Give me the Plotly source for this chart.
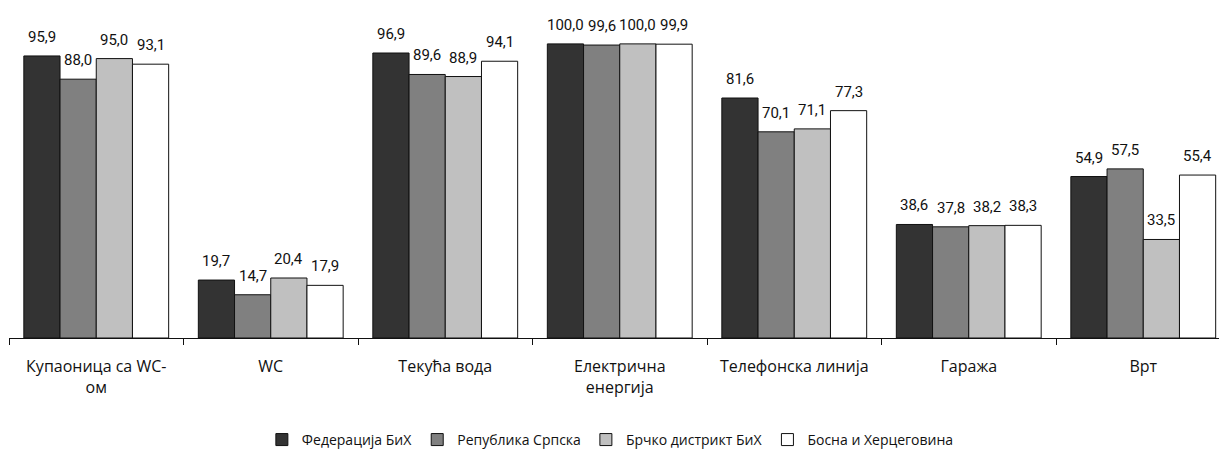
import plotly.graph_objects as go

categories = [
    "Купаоница са WC-<br>ом",
    "WC",
    "Текућа вода",
    "Електрична<br>енергија",
    "Телефонска линија",
    "Гаража",
    "Врт",
]
federacija = [95.9, 19.7, 96.9, 100.0, 81.6, 38.6, 54.9]
republika_srpska = [88.0, 14.7, 89.6, 99.6, 70.1, 37.8, 57.5]
brcko = [95.0, 20.4, 88.9, 100.0, 71.1, 38.2, 33.5]
bih = [93.1, 17.9, 94.1, 99.9, 77.3, 38.3, 55.4]

series = [
    ("Федерација БиХ", federacija, "#333333"),
    ("Република Српска", republika_srpska, "#808080"),
    ("Брчко дистрикт БиХ", brcko, "#c0c0c0"),
    ("Босна и Херцеговина", bih, "#ffffff"),
]

label_font = dict(family="Liberation Sans Narrow, Roboto, sans-serif", size=15, color="#111111")

fig = go.Figure()
for name, vals, color in series:
    fig.add_bar(
        x=categories,
        y=vals,
        name=name,
        marker=dict(color=color, line=dict(color="#111111", width=1)),
    )

# value labels above bars (shifted to their bar inside each group)
bar_px = 174.5 * (1 - 0.17) / 4
annotations = []
for i, (name, vals, color) in enumerate(series):
    for cat, v in zip(categories, vals):
        annotations.append(dict(
            x=cat, y=v, xref="x", yref="y",
            text=f"{v:.1f}".replace(".", ","),
            showarrow=False, yanchor="bottom",
            xshift=(i - 1.5) * bar_px, yshift=8,
            font=label_font,
        ))

# page body has an 8px margin, so the figure is sized to what the window shows
fig.update_layout(
    width=1211,
    height=443,
    barmode="group",
    bargap=0.17,
    bargroupgap=0,
    plot_bgcolor="white",
    paper_bgcolor="white",
    margin=dict(l=1, r=0, t=0, b=113, autoexpand=False),
    font=dict(family="Open Sans, sans-serif", size=16, color="#111111"),
    annotations=annotations,
    legend=dict(
        orientation="h",
        x=0.497, y=-0.309, xanchor="center", yanchor="middle",
        font=dict(size=14),
        itemwidth=30,
        traceorder="normal",
    ),
    xaxis=dict(
        range=[-0.5, 6.434],
        automargin=False,
        showline=True, linecolor="#111111", linewidth=1,
        ticks="outside", tickson="boundaries", ticklen=6, tickcolor="#111111",
        ticklabelstandoff=14,
        showgrid=False,
        tickfont=dict(size=16),
    ),
    yaxis=dict(range=[0, 112.2], visible=False, showgrid=False, automargin=False),
)

fig.write_html("out.html")
